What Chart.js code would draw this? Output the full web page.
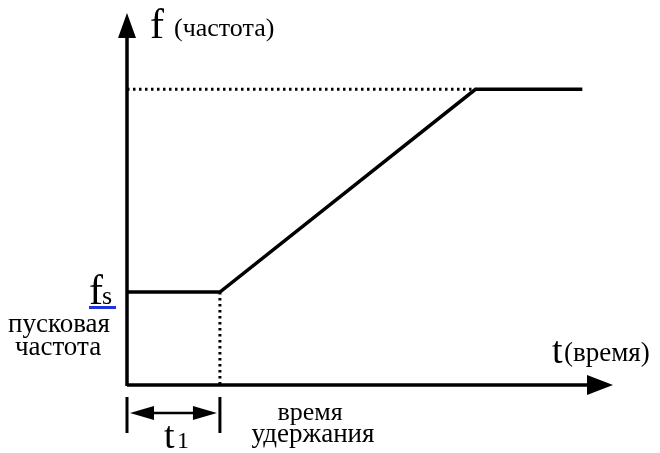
<!DOCTYPE html>
<html>
<head>
<meta charset="utf-8">
<script src="https://cdn.jsdelivr.net/npm/chart.js@4"></script>
<style>
  html, body { margin: 0; padding: 0; background: #fff; }
  .preload { position: absolute; left: -1000px; top: 0; font-family: "Liberation Serif"; }
</style>
</head>
<body>
<div class="preload">пусковая частота время t f</div>
<canvas id="chart" width="660" height="453"></canvas>
<script>
// frequency profile: start frequency held for t1, then ramp, then plateau
const times = [0, 1, 3.75, 4.9];
const freqs = [1, 1, 3.18, 3.18];
const holdTime = 1;
const startFreq = 1;
const maxFreq = 3.18;
const xMax = 5.23;
const yMax = 4.0;

function font(size) {
  return size + 'px "Liberation Serif"';
}

function pts(xs, ys) {
  return xs.map(function (x, i) { return { x: x, y: ys[i] }; });
}

const overlay = {
  id: "overlay",
  afterDraw: function (chart) {
    const ctx = chart.ctx;
    const xs = chart.scales.x;
    const ys = chart.scales.y;
    const x0 = xs.getPixelForValue(0);
    const y0 = ys.getPixelForValue(0);
    const xEnd = xs.getPixelForValue(xMax);
    const yTop = ys.getPixelForValue(yMax);
    const xHold = xs.getPixelForValue(holdTime);

    ctx.save();
    ctx.fillStyle = "#000";
    ctx.strokeStyle = "#000";

    // axes
    ctx.lineWidth = 3.5;
    ctx.beginPath();
    ctx.moveTo(x0, y0 + 1);
    ctx.lineTo(x0, yTop + 20);
    ctx.moveTo(x0, y0);
    ctx.lineTo(xEnd - 20, y0);
    ctx.stroke();

    // arrow heads
    ctx.beginPath();
    ctx.moveTo(x0, yTop);
    ctx.lineTo(x0 - 9, yTop + 25);
    ctx.lineTo(x0 + 9, yTop + 25);
    ctx.closePath();
    ctx.fill();
    ctx.beginPath();
    ctx.moveTo(xEnd, y0);
    ctx.lineTo(xEnd - 26, y0 - 10);
    ctx.lineTo(xEnd - 26, y0 + 10);
    ctx.closePath();
    ctx.fill();

    // t1 dimension
    const dy = y0 + 28;
    ctx.lineWidth = 3;
    ctx.beginPath();
    ctx.moveTo(x0, y0 + 12);
    ctx.lineTo(x0, y0 + 48);
    ctx.moveTo(xHold, y0 + 12);
    ctx.lineTo(xHold, y0 + 48);
    ctx.stroke();
    ctx.lineWidth = 2.5;
    ctx.beginPath();
    ctx.moveTo(x0 + 20, dy);
    ctx.lineTo(xHold - 20, dy);
    ctx.stroke();
    ctx.beginPath();
    ctx.moveTo(x0 + 3, dy);
    ctx.lineTo(x0 + 27, dy - 7);
    ctx.lineTo(x0 + 27, dy + 7);
    ctx.closePath();
    ctx.fill();
    ctx.beginPath();
    ctx.moveTo(xHold - 3, dy);
    ctx.lineTo(xHold - 27, dy - 7);
    ctx.lineTo(xHold - 27, dy + 7);
    ctx.closePath();
    ctx.fill();

    // labels
    ctx.textBaseline = "alphabetic";
    ctx.textAlign = "left";
    ctx.font = font(42);
    ctx.fillText("f", 150, 38);
    ctx.font = font(26);
    ctx.fillText("(частота)", 174, 36);

    const yFs = ys.getPixelForValue(startFreq);
    ctx.font = font(42);
    ctx.fillText("f", 89, yFs + 12);
    ctx.font = font(26);
    ctx.fillText("s", 102, yFs + 12);
    ctx.fillStyle = "#2233dd";
    ctx.fillRect(89, yFs + 14, 27, 3);
    ctx.fillStyle = "#000";

    ctx.textAlign = "center";
    ctx.font = font(27);
    ctx.fillText("пусковая", 59, 332);
    ctx.fillText("частота", 58, 355);

    ctx.textAlign = "left";
    ctx.font = font(38);
    ctx.fillText("t", 552, 363);
    ctx.font = font(27);
    ctx.fillText("(время)", 564, 361);

    ctx.font = font(38);
    ctx.fillText("t", 164, 448);
    ctx.font = font(24);
    ctx.fillText("1", 177, 448);

    ctx.textAlign = "center";
    ctx.font = font(26);
    ctx.fillText("время", 310, 420);
    ctx.font = font(27);
    ctx.fillText("удержания", 313, 442);
    ctx.restore();
  }
};

new Chart(document.getElementById("chart"), {
  type: "line",
  data: {
    datasets: [
      {
        data: pts(times, freqs),
        borderColor: "#000",
        borderWidth: 3.5,
        pointRadius: 0,
        tension: 0,
        clip: false
      },
      {
        data: pts([0, times[2]], [maxFreq, maxFreq]),
        borderColor: "#000",
        borderWidth: 3,
        borderDash: [2.5, 3.5],
        pointRadius: 0,
        clip: false
      },
      {
        data: pts([holdTime, holdTime], [startFreq, 0]),
        borderColor: "#000",
        borderWidth: 3,
        borderDash: [2.5, 3.5],
        pointRadius: 0,
        clip: false
      }
    ]
  },
  options: {
    responsive: false,
    animation: false,
    layout: { padding: { left: 127, right: 47, top: 13, bottom: 68 } },
    plugins: { legend: { display: false }, tooltip: { enabled: false } },
    scales: {
      x: { type: "linear", min: 0, max: xMax, display: false },
      y: { type: "linear", min: 0, max: yMax, display: false }
    }
  },
  plugins: [overlay]
});
</script>
</body>
</html>
